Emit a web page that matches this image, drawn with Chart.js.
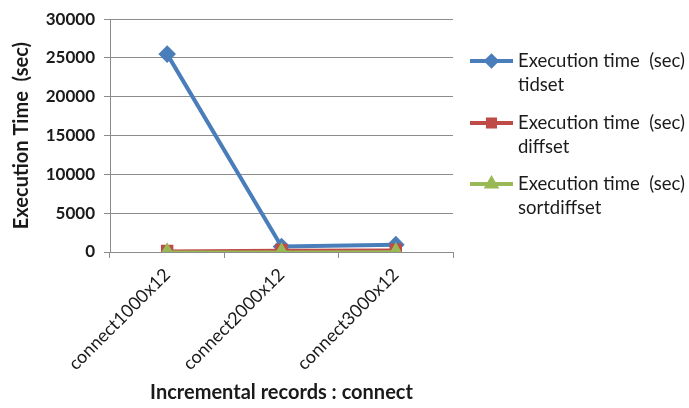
<!DOCTYPE html>
<html>
<head>
<meta charset="utf-8">
<script src="https://cdn.jsdelivr.net/npm/chart.js@4/dist/chart.umd.min.js"></script>
<style>
  html, body { margin: 0; padding: 0; background: #fff; }
  #wrap { width: 689px; height: 408px; position: relative; }
</style>
</head>
<body>
<div id="wrap"><canvas id="c" width="689" height="408"></canvas></div>
<script>
const categories = ['connect1000x12', 'connect2000x12', 'connect3000x12'];
const tidset = [25500, 700, 950];
const diffset = [150, 250, 300];
const sortdiffset = [30, 40, 50];
const seriesNames = [
  ['Execution time  (sec)', 'tidset'],
  ['Execution time  (sec)', 'diffset'],
  ['Execution time  (sec)', 'sortdiffset']
];
const yTicks = [0, 5000, 10000, 15000, 20000, 25000, 30000];

const BLUE = '#4a7ebb', RED = '#be4b48', GREEN = '#98b954';
const FONT = 'Lato, "Open Sans", sans-serif';

// Legend drawn on the right, with two-line labels
const sideLegend = {
  id: 'sideLegend',
  afterDraw(chart) {
    const ctx = chart.ctx;
    const ds = chart.data.datasets;
    const rows = [61, 123, 184];
    ctx.save();
    ds.forEach((d, i) => {
      const y = rows[i];
      ctx.strokeStyle = d.borderColor;
      ctx.lineWidth = 4;
      ctx.beginPath();
      ctx.moveTo(470, y);
      ctx.lineTo(513, y);
      ctx.stroke();
      ctx.fillStyle = d.backgroundColor;
      ctx.strokeStyle = d.borderColor;
      Chart.helpers.drawPoint(ctx, {
        pointStyle: d.pointStyle, radius: 5, rotation: 0, borderWidth: 1
      }, 491.5, y);
      ctx.fillStyle = '#1a1a1a';
      ctx.font = '18.5px ' + FONT;
      ctx.textBaseline = 'middle';
      ctx.textAlign = 'left';
      ctx.fillText(seriesNames[i][0], 518, y);
      ctx.fillText(seriesNames[i][1], 518, y + 24);
    });
    ctx.restore();
  }
};

new Chart(document.getElementById('c'), {
  type: 'line',
  data: {
    labels: categories,
    datasets: [
      { label: seriesNames[0].join(' '), data: tidset, borderColor: BLUE, backgroundColor: BLUE,
        pointStyle: 'rectRot', pointRadius: 6, borderWidth: 4, order: 3 },
      { label: seriesNames[1].join(' '), data: diffset, borderColor: RED, backgroundColor: RED,
        pointStyle: 'rect', pointRadius: 7, borderWidth: 2.5, order: 2 },
      { label: seriesNames[2].join(' '), data: sortdiffset, borderColor: GREEN, backgroundColor: GREEN,
        pointStyle: 'triangle', pointRadius: 7, borderWidth: 2.5, order: 1 }
    ]
  },
  options: {
    responsive: false,
    animation: false,
    layout: { padding: { left: 10, right: 236, top: 5, bottom: 3 } },
    plugins: { legend: { display: false }, tooltip: { enabled: false } },
    scales: {
      x: {
        offset: true,
        grid: { offset: true, drawOnChartArea: false, drawTicks: true, tickLength: 6, color: '#8c8c8c' },
        border: { color: '#8c8c8c', width: 1 },
        ticks: { minRotation: 45, maxRotation: 45, color: '#1a1a1a', padding: 6,
                 font: { family: FONT, size: 18 } },
        title: { display: true, text: 'Incremental records : connect', color: '#1a1a1a',
                 font: { family: FONT, size: 20, weight: 'bold' }, padding: { top: 10, bottom: 0 } },
        afterFit(s) { s.height = 153; }
      },
      y: {
        min: 0, max: 30000,
        afterBuildTicks(s) { s.ticks = yTicks.map(v => ({ value: v })); },
        grid: { color: '#8c8c8c', drawTicks: true, tickLength: 6 },
        border: { color: '#8c8c8c', width: 1 },
        ticks: { color: '#1a1a1a', padding: 9, font: { family: FONT, size: 17, weight: 'bold' },
                 callback: v => String(v) },
        title: { display: true, text: 'Execution Time  (sec)', color: '#1a1a1a',
                 font: { family: FONT, size: 20, weight: 'bold' }, padding: { top: 0, bottom: 4 } },
        afterFit(s) { s.width = 100; }
      }
    }
  },
  plugins: [sideLegend]
});
</script>
</body>
</html>
